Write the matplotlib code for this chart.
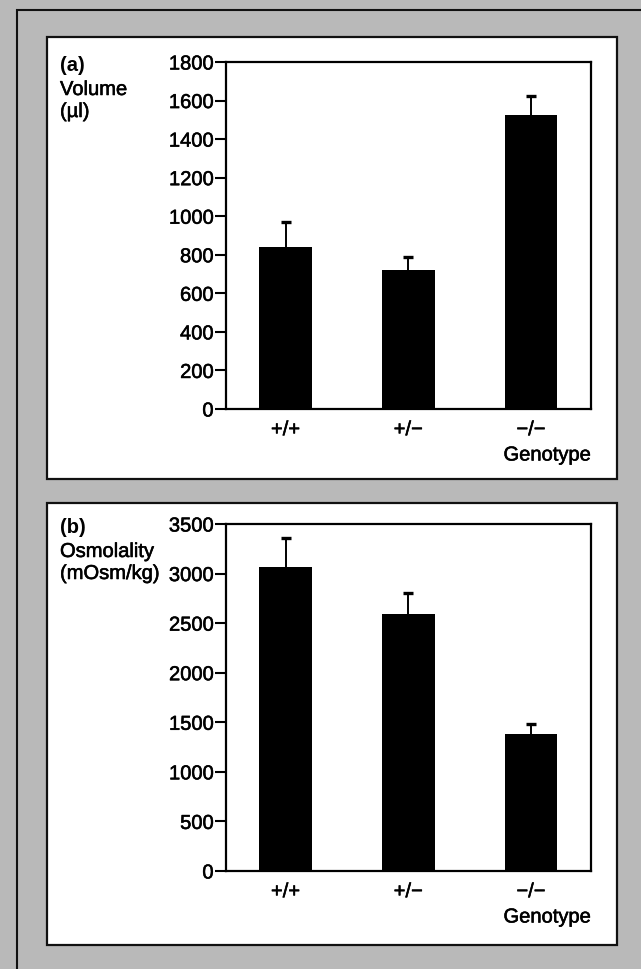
import matplotlib
matplotlib.use("Agg")
import matplotlib.pyplot as plt
from matplotlib.patches import Rectangle
import matplotlib.patheffects as pe

plt.rcParams['font.family'] = ['Liberation Sans', 'DejaVu Sans']

genotypes = ["+/+", "+/\u2212", "\u2212/\u2212"]
volume = [840, 720, 1525]
volume_err = [130, 68, 100]
osmolality = [3066, 2592, 1382]
osmolality_err = [293, 212, 101]

W, H = 641, 969
fig = plt.figure(figsize=(W / 100, H / 100), dpi=100)
fig.patch.set_facecolor('#b9b9b9')

heavy = [pe.withStroke(linewidth=0.4, foreground='black')]
FS = 14.5

def fx(px):
    return px / W

def fy(py):
    return 1 - py / H

# outer frame line (left and top)
fig.add_artist(Rectangle((fx(17), fy(H + 20)), fx(W + 40), (H + 10) / H,
                         transform=fig.transFigure, facecolor='none',
                         edgecolor='#111111', linewidth=1.5, zorder=0))
# white panels
for top, bot in [(37, 479), (503, 945)]:
    fig.add_artist(Rectangle((fx(47), fy(bot)), fx(617 - 47), (bot - top) / H,
                             transform=fig.transFigure, facecolor='white',
                             edgecolor='#111111', linewidth=1.6, zorder=0))

def make_panel(top_px, bot_px, vals, errs, ymax, ystep, letter, lab_lines):
    ax = fig.add_axes([fx(226), fy(bot_px), fx(591 - 226), (bot_px - top_px) / H])
    x = list(range(len(genotypes)))
    ax.errorbar(x, vals, yerr=errs, fmt='none',
                ecolor='black', elinewidth=1.4, capsize=3.5, capthick=2.4, zorder=1)
    ax.bar(x, vals, width=0.43, color='black', zorder=2)
    ax.set_xlim(-0.485, 2.489)
    ax.set_ylim(0, ymax)
    ax.set_yticks(list(range(0, ymax + 1, ystep)))
    ax.set_xticks(x)
    ax.set_xticklabels(genotypes)
    for s in ax.spines.values():
        s.set_linewidth(1.6)
    ax.tick_params(axis='y', length=8, width=1.5, pad=1, labelsize=FS)
    ax.tick_params(axis='x', length=0, pad=8, labelsize=FS)
    for t in ax.get_xticklabels() + ax.get_yticklabels():
        t.set_path_effects(heavy)
    fig.text(fx(591), fy(bot_px + 46), "Genotype", ha='right', va='center',
             fontsize=FS, path_effects=heavy)
    fig.text(fx(60), fy(top_px - 6), letter, ha='left', va='top', fontsize=FS,
             fontweight='bold')
    for i, line in enumerate(lab_lines):
        fig.text(fx(60), fy(top_px + 18 + 22 * i), line, ha='left', va='top',
                 fontsize=FS, path_effects=heavy)
    return ax

make_panel(62, 409, volume, volume_err, 1800, 200, "(a)", ["Volume", "(\u00b5l)"])
make_panel(524, 871, osmolality, osmolality_err, 3500, 500, "(b)",
           ["Osmolality", "(mOsm/kg)"])

fig.savefig("out.png", dpi=100, facecolor=fig.get_facecolor())
